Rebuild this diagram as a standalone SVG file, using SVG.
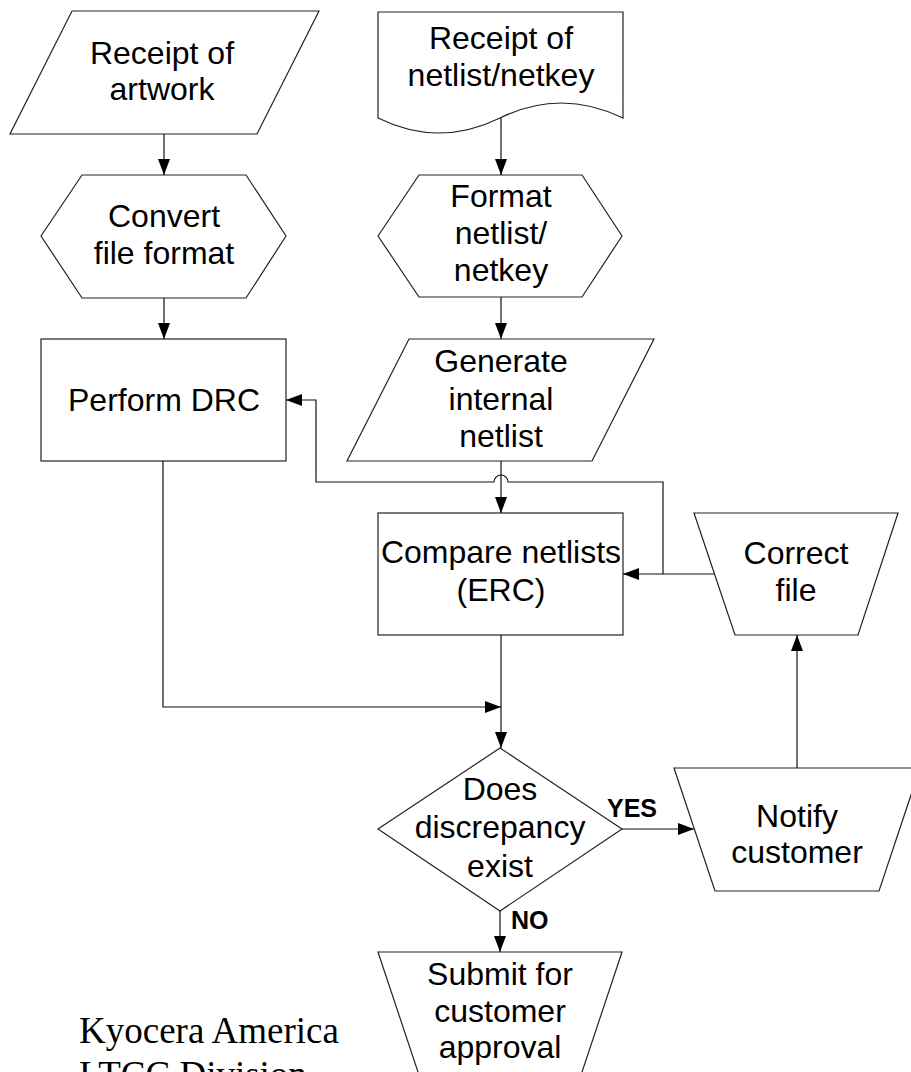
<svg xmlns="http://www.w3.org/2000/svg" width="911" height="1072" viewBox="0 0 911 1072">
<style>
.s{fill:#fff;stroke:#222;stroke-width:1.2}
.t{font-family:"Liberation Sans",Arial,sans-serif;font-size:32px;fill:#000;text-anchor:middle}
.l{font-family:"Liberation Sans",Arial,sans-serif;font-size:25px;font-weight:bold;fill:#000}
.c{fill:none;stroke:#111;stroke-width:1.2}
.f{font-family:"Liberation Serif","Times New Roman",serif;font-size:37px;fill:#000}
</style>
<defs>
<marker id="ah" markerUnits="userSpaceOnUse" markerWidth="17" markerHeight="13" refX="16" refY="6" orient="auto">
<path d="M0,0 L16,6 L0,12 Z" fill="#000"/>
</marker>
</defs>
<rect width="911" height="1072" fill="#fff"/>
<g id="receipt-artwork">
<polygon class="s" points="72,11 319,11 257,134 10,134"/>
<text class="t" x="162" y="64">Receipt of</text>
<text class="t" x="162" y="100">artwork</text>
</g>
<g id="receipt-netlist">
<path class="s" d="M378,12 H623 V118 Q561,88 500,118 Q439,148 378,118 Z"/>
<text class="t" x="501" y="49">Receipt of</text>
<text class="t" x="501" y="86">netlist/netkey</text>
</g>
<g id="convert">
<polygon class="s" points="41,236 82,175 246,175 286,236 246,298 82,298"/>
<text class="t" x="164" y="227">Convert</text>
<text class="t" x="164" y="264">file format</text>
</g>
<g id="format">
<polygon class="s" points="378,236 419,175 582,175 622,236 582,297 419,297"/>
<text class="t" x="501" y="207">Format</text>
<text class="t" x="501" y="244">netlist/</text>
<text class="t" x="501" y="281">netkey</text>
</g>
<g id="drc">
<rect class="s" x="41" y="339" width="245" height="122"/>
<text class="t" x="164" y="411">Perform DRC</text>
</g>
<g id="generate">
<polygon class="s" points="409,339 654,339 592,461 347,461"/>
<text class="t" x="501" y="372">Generate</text>
<text class="t" x="501" y="410">internal</text>
<text class="t" x="501" y="447">netlist</text>
</g>
<g id="compare">
<rect class="s" x="378" y="513" width="245" height="122"/>
<text class="t" x="501" y="563">Compare netlists</text>
<text class="t" x="501" y="601">(ERC)</text>
</g>
<g id="correct">
<polygon class="s" points="694,513 898,513 858,635 735,635"/>
<text class="t" x="796" y="564">Correct</text>
<text class="t" x="796" y="601">file</text>
</g>
<g id="decision">
<polygon class="s" points="500,748 622,829 500,911 378,829"/>
<text class="t" x="500" y="800">Does</text>
<text class="t" x="500" y="838">discrepancy</text>
<text class="t" x="500" y="877">exist</text>
</g>
<g id="notify">
<polygon class="s" points="674,768 920,768 879,891 715,891"/>
<text class="t" x="797" y="827">Notify</text>
<text class="t" x="797" y="863">customer</text>
</g>
<g id="submit">
<polygon class="s" points="378,952 622,952 581,1075 419,1075"/>
<text class="t" x="500" y="985">Submit for</text>
<text class="t" x="500" y="1022">customer</text>
<text class="t" x="500" y="1058">approval</text>
</g>
<g id="connectors">
<path class="c" d="M164,134 V175" marker-end="url(#ah)"/>
<path class="c" d="M164,298 V339" marker-end="url(#ah)"/>
<path class="c" d="M501,118 V175" marker-end="url(#ah)"/>
<path class="c" d="M501,297 V339" marker-end="url(#ah)"/>
<path class="c" d="M501,461 V513" marker-end="url(#ah)"/>
<path class="c" d="M163,461 V707 H501" marker-end="url(#ah)"/>
<path class="c" d="M501,635 V748" marker-end="url(#ah)"/>
<path class="c" d="M622,829 H694" marker-end="url(#ah)"/>
<path class="c" d="M500,911 V952" marker-end="url(#ah)"/>
<path class="c" d="M797,768 V635" marker-end="url(#ah)"/>
<path class="c" d="M714,574 H623" marker-end="url(#ah)"/>
<path class="c" d="M663,574 V482 H508 A7,7 0 0 0 494,482 H316 V400 H286" marker-end="url(#ah)"/>
<text class="l" x="607" y="817">YES</text>
<text class="l" x="511" y="929">NO</text>
</g>
<g id="footer">
<text class="f" x="79" y="1043">Kyocera America</text>
<text class="f" x="79" y="1087">LTCC Division</text>
</g>
</svg>
